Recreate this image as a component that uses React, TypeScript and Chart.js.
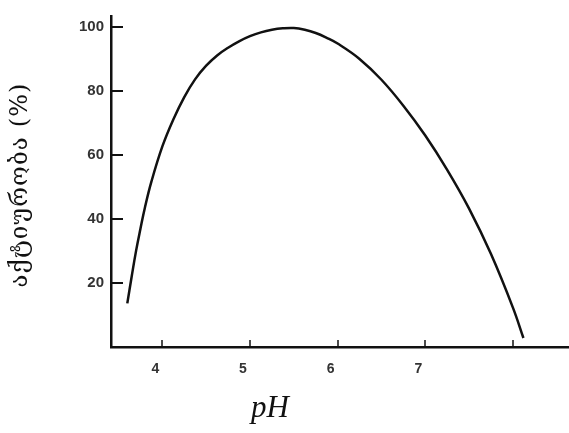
import React, { useEffect, useRef } from "react";
import { Chart, registerables } from "chart.js";

Chart.register(...registerables);

const phValues = [3.6, 3.65, 3.7, 3.75, 3.8, 3.875, 4.0, 4.125, 4.25, 4.375, 4.5, 4.625, 4.75, 4.875, 5.0, 5.125, 5.25, 5.375, 5.5, 5.625, 5.75, 5.875, 6.0, 6.25, 6.5, 6.75, 7.0, 7.25, 7.5, 7.75, 8.0, 8.12];
const activity = [13.6, 22.0, 30.0, 36.9, 43.4, 51.6, 62.6, 71.0, 78.0, 83.6, 87.8, 91.0, 93.4, 95.4, 97.0, 98.2, 99.0, 99.45, 99.55, 99.0, 98.0, 96.5, 94.7, 89.9, 83.4, 75.3, 66.0, 55.3, 43.2, 29.0, 12.3, 2.8];
const xTicks = [4, 5, 6, 7, 8];
const xTickLabels = ["4", "5", "6", "7", ""];
const yTicks = [20, 40, 60, 80, 100];
const yTitle = "აქტიურობა (%)";
const xTitle = "pH";

const innerTicks = {
  id: "innerTicks",
  afterDraw(chart: any) {
    const { ctx, chartArea, scales } = chart;
    ctx.save();
    ctx.strokeStyle = "#111";
    ctx.lineWidth = 2;
    yTicks.forEach((v) => {
      const y = Math.round(scales.y.getPixelForValue(v));
      ctx.beginPath();
      ctx.moveTo(chartArea.left, y);
      ctx.lineTo(chartArea.left + 12, y);
      ctx.stroke();
    });
    ctx.lineWidth = 1.5;
    xTicks.forEach((v) => {
      const x = Math.round(scales.x.getPixelForValue(v));
      ctx.beginPath();
      ctx.moveTo(x, chartArea.bottom);
      ctx.lineTo(x, chartArea.bottom - 7);
      ctx.stroke();
    });
    // titles
    ctx.fillStyle = "#111";
    ctx.textAlign = "center";
    ctx.textBaseline = "middle";
    ctx.font = "italic 31px 'Liberation Serif'";
    ctx.fillText(xTitle, 270, 409);
    ctx.translate(21, 185);
    ctx.rotate(-Math.PI / 2);
    ctx.font = "24px 'DejaVu Serif', 'DejaVu Sans'";
    const w = ctx.measureText(yTitle).width;
    const target = 204;
    if (w < target && "letterSpacing" in ctx) {
      (ctx as any).letterSpacing = ((target - w) / (yTitle.length - 1)).toFixed(2) + "px";
    }
    ctx.fillText(yTitle, 0, 0);
    ctx.restore();
  },
};

export default function App() {
  const ref = useRef<HTMLCanvasElement>(null);
  useEffect(() => {
    const chart = new Chart(ref.current!, {
      type: "line",
      data: {
        datasets: [
          {
            data: phValues.map((x, i) => ({ x, y: activity[i] })),
            borderColor: "#111",
            borderWidth: 2.5,
            pointRadius: 0,
            tension: 0.4,
            fill: false,
          },
        ],
      },
      options: {
        animation: false,
        responsive: false,
        maintainAspectRatio: false,
        layout: { padding: { top: 12, right: 0, left: 0, bottom: 0 } },
        plugins: { legend: { display: false }, tooltip: { enabled: false } },
        scales: {
          x: {
            type: "linear",
            min: 3.414,
            max: 8.64,
            afterBuildTicks: (s: any) => {
              s.ticks = xTicks.map((v) => ({ value: v }));
            },
            afterFit: (s: any) => {
              s.height = 86;
            },
            grid: { display: false, drawTicks: false },
            border: { display: true, color: "#111", width: 2.5 },
            ticks: {
              padding: 14,
              labelOffset: -7,
              color: "#333",
              font: { family: "'Liberation Sans'", size: 14, weight: "bold" },
              callback: (v: any) => xTickLabels[xTicks.indexOf(Number(v))] ?? "",
            },
          },
          y: {
            type: "linear",
            min: 0,
            max: 103.3,
            afterBuildTicks: (s: any) => {
              s.ticks = yTicks.map((v) => ({ value: v }));
            },
            afterFit: (s: any) => {
              s.width = 111;
            },
            grid: { display: false, drawTicks: false },
            border: { display: true, color: "#111", width: 2.5 },
            ticks: {
              padding: 7,
              color: "#333",
              font: { family: "'Liberation Sans'", size: 15, weight: "bold" },
              callback: (v: any) => String(v),
            },
          },
        },
      },
      plugins: [innerTicks],
    } as any);
    return () => chart.destroy();
  }, []);
  return (
    <div style={{ position: "absolute", left: 0, top: 0, width: 569, height: 433, background: "#fff" }}>
      <canvas ref={ref} width={569} height={433} style={{ display: "block" }} />
    </div>
  );
}
